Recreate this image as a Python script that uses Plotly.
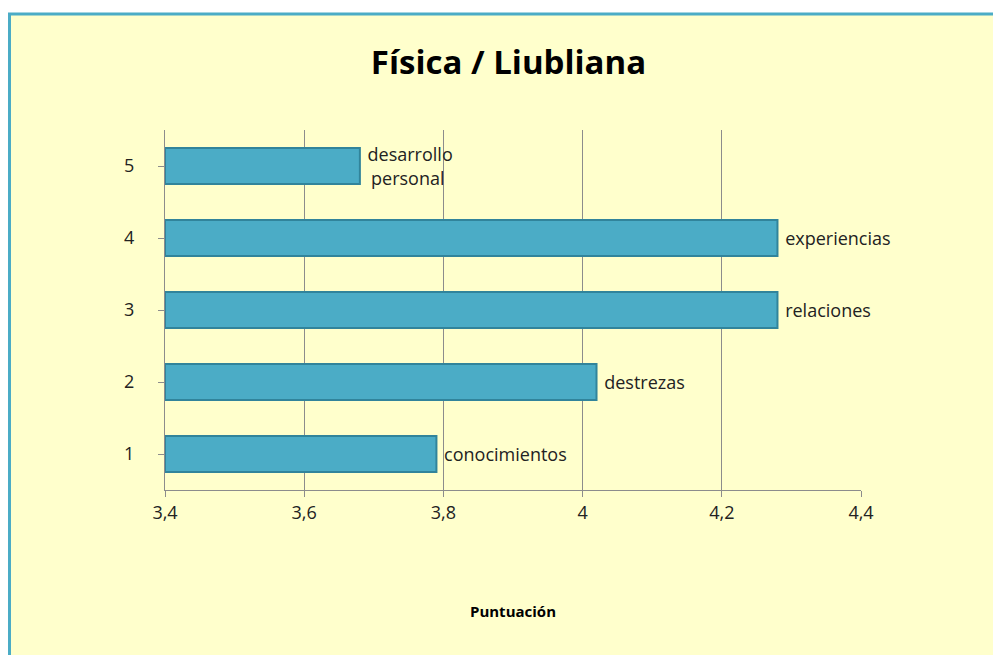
import plotly.graph_objects as go

categories = ["1", "2", "3", "4", "5"]
values = [3.79, 4.02, 4.28, 4.28, 3.68]
labels = ["conocimientos", "destrezas", "relaciones", "experiencias", "desarrollo<br>personal"]
x_ticks = [3.4, 3.6, 3.8, 4.0, 4.2, 4.4]
x_ticktext = ["3,4", "3,6", "3,8", "4", "4,2", "4,4"]
axis_min = 3.4

W, H = 1001, 655
L, R, T, B = 157, 148, 122, 173
pw, ph = W - L - R, H - T - B

def px_x(p):
    return (p - L) / pw

def px_y(p):
    return (H - B - p) / ph

fig = go.Figure()
fig.add_trace(go.Bar(
    y=categories, x=[v - axis_min for v in values], base=axis_min,
    orientation="h",
    marker=dict(color="#4BACC6", line=dict(color="#31849B", width=2)),
    width=0.5,
    text=[" " + t for t in labels], textposition="outside", cliponaxis=False,
    constraintext="none",
    textfont=dict(family="Open Sans, DejaVu Sans", size=18, color="#222222"),
))

fig.update_layout(
    width=W, height=H,
    margin=dict(l=L, r=R, t=T, b=B, autoexpand=False),
    paper_bgcolor="white",
    plot_bgcolor="rgba(0,0,0,0)",
    separators=",.",
    showlegend=False,
    title=dict(text="<b>Física / Liubliana</b>", x=0.5, xanchor="center",
               y=1 - 54 / H, yanchor="middle",
               font=dict(family="Open Sans, DejaVu Sans", size=33, color="black")),
    xaxis=dict(range=[3.4, 4.4], tickvals=x_ticks, ticktext=x_ticktext,
               automargin=False,
               showgrid=True, gridcolor="#8C8C8C", gridwidth=1,
               showline=True, linecolor="#8C8C8C", ticks="outside", ticklen=6,
               tickcolor="#8C8C8C",
               tickfont=dict(family="Open Sans, DejaVu Sans", size=18, color="#222222"),
               title=dict(text="<b>Puntuación</b>", standoff=83,
                          font=dict(family="Open Sans, DejaVu Sans", size=15, color="black")),
               zeroline=False),
    yaxis=dict(showgrid=False, showline=True, linecolor="#8C8C8C",
               automargin=False,
               ticks="outside", ticklen=6, tickcolor="#8C8C8C",
               tickfont=dict(family="Open Sans, DejaVu Sans", size=18, color="#222222"),
               ticklabelstandoff=20),
    shapes=[dict(type="rect", xref="paper", yref="paper", layer="below",
                 x0=px_x(1.5), x1=px_x(W + 10), y0=px_y(H + 10), y1=px_y(6),
                 fillcolor="#FFFFCC", line=dict(color="#4BACC6", width=3))],
)

fig.write_html("out.html")
